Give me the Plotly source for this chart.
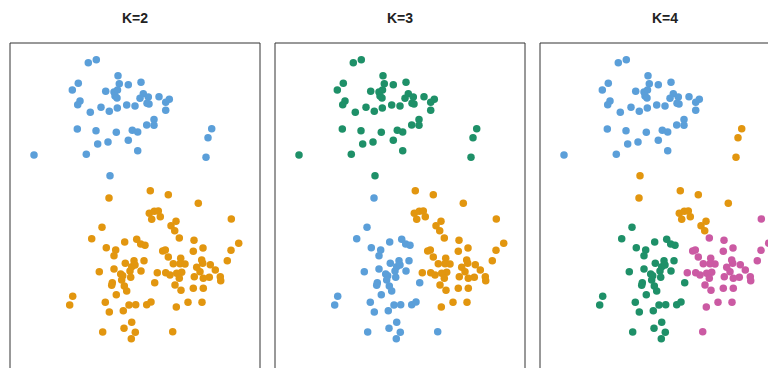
import plotly.graph_objects as go

# ---- data: point coordinates (same observations in every panel) ----
top_x = [78.3, 86.3, 108, 68.3, 109.3, 118.3, 131, 62.3, 95.7, 104, 107.5, 105, 107, 133.3, 130, 138.3,
         149, 137, 139, 159.3, 155.7, 155.7, 70, 67.7, 80.3, 91, 99.3, 107.3, 116.7, 125, 67.3, 86,
         106.3, 122.3, 127.7, 136.7, 144, 144, 87.7, 98, 118.3, 127.7, 76.3, 24]
top_y = [305.3, 308.3, 292.3, 284.7, 284.3, 283.3, 285.7, 278, 276.7, 276, 278, 272, 270, 274.3, 269.7, 271,
         271.3, 264.7, 264, 268.7, 265.7, 257.7, 267, 263.3, 255.7, 260.7, 256.7, 260, 263, 262, 239, 237.3,
         235.7, 237.7, 236, 243, 248.5, 242.7, 224, 226, 227.7, 217.3, 213.7, 213]

right_x = [201.7, 198, 196, 100]
right_y = [239.3, 230.3, 210.7, 192.3]

mid_x = [99]
mid_y = [170]

bru_x = [140.3, 158.3, 188.3, 139.3, 144.3, 148.3, 141.7, 150.3, 166, 161, 164.7]
bru_y = [177.3, 173.3, 164.7, 154.7, 156.7, 157, 148.7, 151.3, 146.7, 142.3, 137.3]

bl_x = [92, 81.7, 96.3, 105.7, 104, 114.7, 126.7, 130.7, 135, 124, 134, 115.3, 89.3, 104, 110.7, 112.7,
        120, 120.7, 111.7, 102.3, 101.7, 114.3, 116.7, 106.3, 131, 62.7, 59.7, 95.3, 99.3, 113.3, 119,
        125.7, 121.7, 92.7, 114, 125.3, 121.3, 144.7, 136.7, 141, 121.7, 125]
bl_y = [140.7, 129.3, 120.3, 118, 112.3, 126, 128.7, 124, 122.7, 107.3, 107.3, 104.7, 96.3, 99, 94, 92.3,
        97, 90.7, 88, 85.3, 82.7, 82, 77, 73.3, 97, 71.7, 63, 65.7, 56, 57.3, 63,
        63.3, 45.7, 36, 39.7, 35.7, 29.3, 85.3, 63.3, 66, 101.3, 103]

odd_x = [162.7]
odd_y = [36.3]

brl_x = [221.3, 169.3, 184, 228.7, 183.3, 193, 221, 152.7, 155.3, 158.3, 170.7, 163.3, 170, 175, 191.7,
         192.7, 200.3, 217.3, 147.3, 155.7, 160, 171.7, 166.7, 169.3, 165, 171, 186.7, 190, 184.3, 205.3,
         199.3, 193.3, 210.3, 210.7, 183.3, 193.3, 178, 192, 166.3]
brl_y = [149, 130, 127.7, 124.7, 116.7, 120, 117.7, 117, 118, 111, 109.7, 104.3, 104.3, 104, 108,
         104.7, 103.3, 107.3, 95.3, 95.3, 93, 95.7, 94.7, 89.7, 83, 77.7, 100.7, 96.3, 91.3, 98,
         90.7, 89.7, 91.3, 87.3, 79.7, 79.7, 65.7, 65.7, 61]

# cluster assignment of each group for K=2, K=3, K=4
groups = [
    (top_x, top_y, 0, 0, 0),
    (right_x, right_y, 0, 0, 1),
    (mid_x, mid_y, 1, 1, 1),
    (bru_x, bru_y, 1, 2, 1),
    (bl_x, bl_y, 1, 1, 2),
    (odd_x, odd_y, 1, 1, 3),
    (brl_x, brl_y, 1, 2, 3),
]

titles = ["K=2", "K=3", "K=4"]

BLUE, ORANGE, GREEN, PINK = "#5B9FD9", "#E2960F", "#1E9068", "#CB5AA3"
palettes = [
    [BLUE, ORANGE],
    [GREEN, BLUE, ORANGE],
    [BLUE, ORANGE, GREEN, PINK],
]

W, H = 776, 368
OFF = 8  # page body margin in the browser
panel_left = [10 - OFF, 275 - OFF, 540 - OFF]
panel_w = 250
top_px = 43 - OFF

fig = go.Figure()
for p in range(3):
    xs, ys, cs = [], [], []
    for g in groups:
        gx, gy = g[0], g[1]
        lab = g[2 + p]
        xs += gx
        ys += gy
        cs += [palettes[p][lab]] * len(gx)
    ax = "" if p == 0 else str(p + 1)
    fig.add_trace(go.Scatter(x=xs, y=ys, mode="markers", xaxis="x" + ax, yaxis="y" + ax,
                             marker=dict(size=7.5, color=cs, line=dict(width=0)),
                             showlegend=False, hoverinfo="skip"))
    l = panel_left[p]
    r = min(l + panel_w, W)
    fig.layout["xaxis" + ax] = dict(domain=[l / W, r / W], range=[0, r - l], showgrid=False, zeroline=False,
                                    showticklabels=False, ticks="", anchor="y" + ax, fixedrange=True)
    fig.layout["yaxis" + ax] = dict(domain=[0, 1 - top_px / H], range=[-OFF, H - top_px - OFF],
                                    showgrid=False, zeroline=False, showticklabels=False, ticks="",
                                    anchor="x" + ax, fixedrange=True)
    x0, x1 = l / W, (l + panel_w) / W
    yt = 1 - top_px / H
    lines = [(x0, 0, x0, yt), (x0, yt, x1, yt)]
    if l + panel_w < W:
        lines.append((x1, 0, x1, yt))
    for (a, b, c, d) in lines:
        fig.add_shape(type="line", xref="paper", yref="paper", x0=a, y0=b, x1=c, y1=d,
                      line=dict(color="#333333", width=1))
    fig.add_annotation(text="<b>%s</b>" % titles[p], xref="paper", yref="paper",
                       x=(l + panel_w / 2) / W, y=1 - (18 - OFF) / H, showarrow=False,
                       font=dict(family="Liberation Sans, Arial, sans-serif", size=14, color="#222222"),
                       xanchor="center", yanchor="middle")

fig.update_layout(width=W, height=H, margin=dict(l=0, r=0, t=0, b=0),
                  paper_bgcolor="white", plot_bgcolor="white")
fig.write_html("out.html")
